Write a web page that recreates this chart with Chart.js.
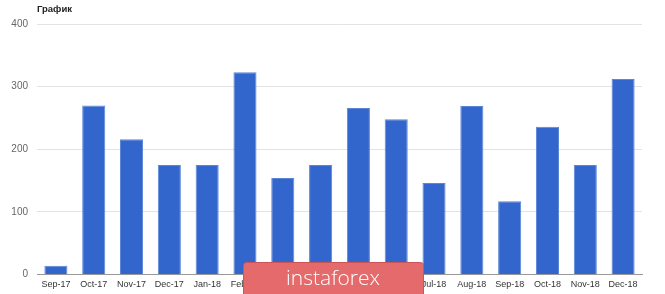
<!DOCTYPE html>
<html>
<head>
<meta charset="utf-8">
<script src="https://cdn.jsdelivr.net/npm/chart.js@4/dist/chart.umd.min.js"></script>
<style>
  html, body { margin: 0; padding: 0; background: #fff; }
  #wrap { width: 665px; height: 294px; position: relative; }
</style>
</head>
<body>
<div id="wrap"><canvas id="grafico"></canvas></div>
<script>
// dados do gráfico
const meses = ["Sep-17", "Oct-17", "Nov-17", "Dec-17", "Jan-18", "Feb-18", "Mar-18", "Apr-18",
               "May-18", "Jun-18", "Jul-18", "Aug-18", "Sep-18", "Oct-18", "Nov-18", "Dec-18"];
const valores = [14, 270, 216, 175, 175, 323, 154, 175, 266, 248, 146, 269, 117, 236, 175, 312];
const yTicks = [0, 100, 200, 300, 400];
const titulo = "График";

// título no canto + marca d'água por cima
const extras = {
    id: 'extras',
    afterDraw(chart) {
        const ctx = chart.ctx;
        ctx.save();
        ctx.fillStyle = '#222';
        ctx.font = 'bold 9.5px "Liberation Sans", Arial, sans-serif';
        ctx.textBaseline = 'middle';
        ctx.textAlign = 'left';
        ctx.fillText(titulo, chart.chartArea.left, 9);

        // logo instaforex
        const x = 243, y = 262, w = 180, h = 40;
        ctx.fillStyle = '#e46a6c';
        ctx.strokeStyle = '#c95556';
        ctx.lineWidth = 1;
        ctx.beginPath();
        ctx.roundRect(x + 0.5, y + 0.5, w, h, 3);
        ctx.fill();
        ctx.stroke();
        ctx.fillStyle = '#fff';
        ctx.font = '300 21px "Open Sans", "Liberation Sans", sans-serif';
        ctx.textAlign = 'center';
        ctx.textBaseline = 'alphabetic';
        ctx.fillText('instaforex', x + w / 2, 285);
        ctx.restore();
    }
};

new Chart(document.getElementById('grafico'), {
    type: 'bar',
    data: {
        labels: meses,
        datasets: [{
            data: valores,
            backgroundColor: '#3366cc',
            borderColor: '#5b86d8',
            borderWidth: 1,
            barPercentage: 0.61,
            categoryPercentage: 1
        }]
    },
    options: {
        responsive: true,
        maintainAspectRatio: false,
        animation: false,
        layout: { padding: { left: 0, right: 23, top: 24, bottom: 0 } },
        plugins: {
            legend: { display: false },
            tooltip: { enabled: false }
        },
        scales: {
            x: {
                grid: { display: false, drawTicks: false },
                border: { display: true, color: '#999', width: 1 },
                ticks: {
                    color: '#333',
                    font: { family: '"Liberation Sans", Arial, sans-serif', size: 9 },
                    padding: 5,
                    maxRotation: 0,
                    autoSkip: false
                },
                afterFit: (s) => { s.height = 19.5; }
            },
            y: {
                min: 0,
                max: 400,
                afterBuildTicks: (s) => { s.ticks = yTicks.map(v => ({ value: v })); },
                grid: {
                    color: (c) => c.tick && c.tick.value === 0 ? '#999' : '#e3e3e3',
                    drawTicks: false
                },
                border: { display: false },
                ticks: {
                    color: '#666',
                    font: { family: '"Liberation Sans", Arial, sans-serif', size: 10 },
                    padding: 9
                },
                afterFit: (s) => { s.width = 37; }
            }
        }
    },
    plugins: [extras]
});
</script>
</body>
</html>
